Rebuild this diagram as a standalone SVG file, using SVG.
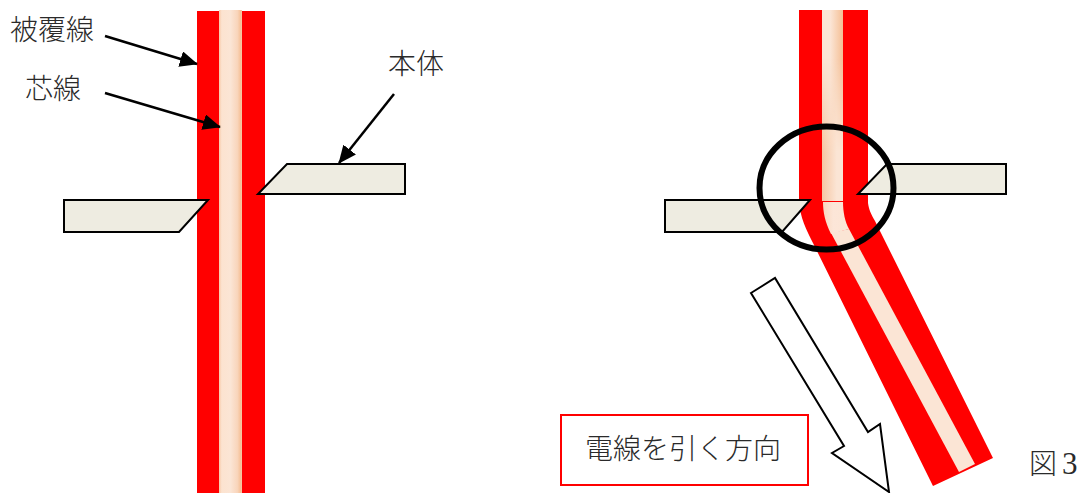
<svg xmlns="http://www.w3.org/2000/svg" width="1087" height="493" viewBox="0 0 1087 493">
<style>
text{font-family:"Liberation Serif","Noto Sans CJK JP",serif;font-size:28px;font-weight:300;fill:#2a2a2a}
.red{fill:#f00}
.body{fill:#eeece1;stroke:#000;stroke-width:2}
.ldr{stroke:#000;stroke-width:2.5;fill:none;marker-end:url(#ah)}
</style>
<defs>
<marker id="ah" viewBox="0 0 10 10" refX="9.5" refY="5" markerWidth="18" markerHeight="16" markerUnits="userSpaceOnUse" orient="auto" preserveAspectRatio="none"><path d="M0 0L10 5L0 10Z" fill="#000"/></marker>
<linearGradient id="g1" x1="0" x2="1" y1="0" y2="0"><stop offset="0" stop-color="#f7c9a8"/><stop offset=".12" stop-color="#fce3d0"/><stop offset=".5" stop-color="#fbe5d5"/><stop offset=".8" stop-color="#f9d5bb"/><stop offset=".95" stop-color="#f5bf95"/><stop offset="1" stop-color="#f7c9a8"/></linearGradient>
<linearGradient id="g2a" x1="0" x2="1" y1="0" y2="0"><stop offset="0" stop-color="#fbe5d5"/><stop offset=".4" stop-color="#fbe5d5"/><stop offset="1" stop-color="#f5bf95"/></linearGradient>
<linearGradient id="g2b" x1="0" x2="1" y1="0" y2="0"><stop offset="0" stop-color="#f6c6a2"/><stop offset=".7" stop-color="#fbe5d5"/><stop offset="1" stop-color="#fbe5d5"/></linearGradient>
<linearGradient id="fade" x1="0" x2="0" y1="0" y2="1"><stop offset="0" stop-color="#000"/><stop offset=".25" stop-color="#000"/><stop offset=".75" stop-color="#fff"/><stop offset="1" stop-color="#fff"/></linearGradient>
<mask id="m" maskUnits="userSpaceOnUse" x="822" y="10" width="21" height="191"><rect x="822" y="10" width="21" height="191" fill="url(#fade)"/></mask>
<linearGradient id="g3" x1="0" x2="1" y1="0" y2="0"><stop offset="0" stop-color="#f9d8bf"/><stop offset=".4" stop-color="#fce6d8"/><stop offset="1" stop-color="#fbe5d5"/></linearGradient>
</defs>
<g id="wire-left">
<rect class="red" x="197" y="11" width="68" height="482"/>
<rect x="219" y="10" width="23" height="483" fill="url(#g1)"/>
</g>
<g id="wire-right">
<path class="red" d="M799 10H868V203C869 210 871 214 875 221L993 458L933 486L814 245C806 229 800 218 799 200Z"/>
<rect x="822" y="10" width="21" height="191" fill="url(#g2a)"/>
<rect x="822" y="10" width="21" height="191" fill="url(#g2b)" mask="url(#m)"/>
<path d="M831 233L849 229L975 464L959 472Z" fill="#fbe5d5"/>
<path d="M823 202H843C843 212 845 222 849 229L831 234C825 222 823 212 823 202Z" fill="url(#g3)"/>
</g>
<g id="body-left-a"><path class="body" d="M64 200H208L179 232H64Z"/></g>
<g id="body-left-b"><path class="body" d="M287 164H405V194H258Z"/></g>
<g id="body-right-a"><path class="body" d="M665 200H810L782 232H665Z"/></g>
<g id="body-right-b"><path class="body" d="M887 164H1006V194H858Z"/></g>
<g id="connectors">
<line class="ldr" x1="105" y1="36" x2="197" y2="64"/>
<line class="ldr" x1="105" y1="93" x2="220" y2="127"/>
<line class="ldr" x1="394" y1="94" x2="339" y2="163"/>
</g>
<g id="circle"><ellipse cx="826.5" cy="188" rx="67" ry="61.5" fill="none" stroke="#000" stroke-width="6"/></g>
<g id="pull-arrow"><path d="M751 293L775 278L868 432L880 424L889 492L832 453L844 446Z" fill="#fff" stroke="#000" stroke-width="2"/></g>
<g id="label-box"><rect x="561" y="415" width="247" height="70" fill="#fff" stroke="#f00" stroke-width="2"/>
<text x="585" y="459">電線を引く方向</text></g>
<g id="labels">
<text x="10" y="40">被覆線</text>
<text x="25" y="99">芯線</text>
<text x="388" y="74">本体</text>
<text x="1029" y="474">図 <tspan x="1062" font-size="31">3</tspan></text>
</g>
</svg>
